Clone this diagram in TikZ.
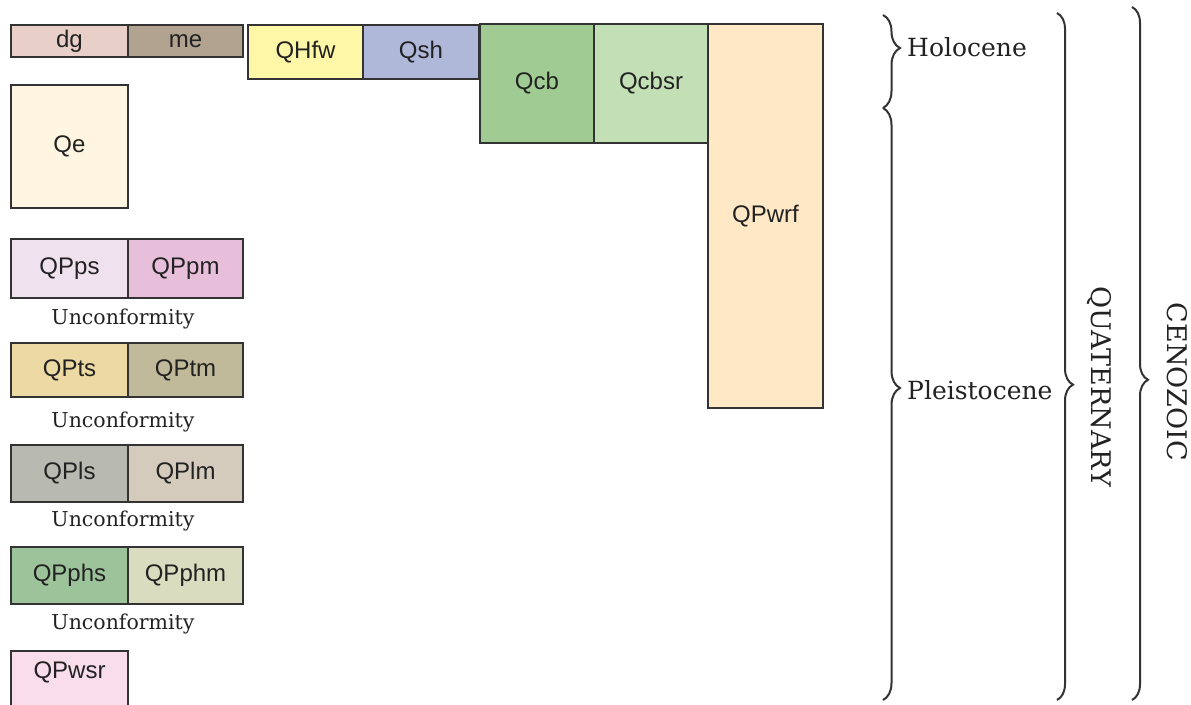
\documentclass[tikz,border=0pt]{standalone}
\usepackage{fontspec}
\setmainfont{DejaVu Serif}
\setsansfont{Liberation Sans}
\usetikzlibrary{decorations.pathreplacing}

% unit fill colours
\definecolor{cdg}{HTML}{E8CFC8}
\definecolor{cme}{HTML}{B1A390}
\definecolor{cQe}{HTML}{FFF5E0}
\definecolor{cQHfw}{HTML}{FFF7A8}
\definecolor{cQsh}{HTML}{B0B8DA}
\definecolor{cQcb}{HTML}{A0CC94}
\definecolor{cQcbsr}{HTML}{C2DFB5}
\definecolor{cQPwrf}{HTML}{FFE8C6}
\definecolor{cQPps}{HTML}{F0E1EF}
\definecolor{cQPpm}{HTML}{E8BFDB}
\definecolor{cQPts}{HTML}{EDD9A3}
\definecolor{cQPtm}{HTML}{C0BA9A}
\definecolor{cQPls}{HTML}{B8B9B0}
\definecolor{cQPlm}{HTML}{D4CBBC}
\definecolor{cQPphs}{HTML}{9DC39A}
\definecolor{cQPphm}{HTML}{DADCC0}
\definecolor{cQPwsr}{HTML}{F9DDEA}
\definecolor{edge}{HTML}{333333}
\definecolor{ink}{HTML}{222222}

\begin{document}
\begin{tikzpicture}[x=1pt,y=-1pt,
  unit/.style={draw=edge, line width=1.8pt, inner sep=0pt,
    font=\sffamily\fontsize{24}{24}\selectfont, text=ink},
  unitlabel/.style={inner sep=0pt, font=\sffamily\fontsize{24}{24}\selectfont, text=ink},
  epoch/.style={inner sep=0pt, font=\fontsize{25}{25}\selectfont, text=ink},
  period/.style={inner sep=0pt, font=\fontsize{27}{27}\selectfont, text=ink, rotate=-90},
  gapnote/.style={inner sep=0pt, font=\fontsize{20.5}{20.5}\selectfont, text=ink},
  bracket/.style={draw=black!80, line width=2pt, decorate,
    decoration={brace, amplitude=#1}}]

\useasboundingbox (0,0) rectangle (1191,704);

% --- left column of units ---
\node[unit, fill=cdg, minimum width=117, minimum height=32] (dg) at (69.5,41) {dg};
\node[unit, fill=cme, minimum width=115, minimum height=32] (me) at (185.5,41) {me};
\node[unit, fill=cQe, minimum width=117, minimum height=123] (Qe) at (69.5,146.5) {Qe};

\node[unit, fill=cQPps, minimum width=117, minimum height=59] (QPps) at (69.5,268.5) {QPps};
\node[unit, fill=cQPpm, minimum width=115, minimum height=59] (QPpm) at (185.5,268.5) {QPpm};
\node[gapnote] (unc1) at (123,319) {Unconformity};

\node[unit, fill=cQPts, minimum width=117, minimum height=54] (QPts) at (69.5,370) {QPts};
\node[unit, fill=cQPtm, minimum width=115, minimum height=54] (QPtm) at (185.5,370) {QPtm};
\node[gapnote] (unc2) at (123,422) {Unconformity};

\node[unit, fill=cQPls, minimum width=117, minimum height=57] (QPls) at (69.5,473.5) {QPls};
\node[unit, fill=cQPlm, minimum width=115, minimum height=57] (QPlm) at (185.5,473.5) {QPlm};
\node[gapnote] (unc3) at (123,521) {Unconformity};

\node[unit, fill=cQPphs, minimum width=117, minimum height=57] (QPphs) at (69.5,575.5) {QPphs};
\node[unit, fill=cQPphm, minimum width=115, minimum height=57] (QPphm) at (185.5,575.5) {QPphm};
\node[gapnote] (unc4) at (123,624) {Unconformity};

\node[unit, fill=cQPwsr, minimum width=117, minimum height=80] (QPwsr) at (69.5,691) {};
\node[unitlabel] (QPwsrlab) at (69.5,672) {QPwsr};

% --- top row of units ---
\node[unit, fill=cQHfw, minimum width=115, minimum height=54] (QHfw) at (305.5,52) {QHfw};
\node[unit, fill=cQsh, minimum width=116, minimum height=54] (Qsh) at (421,52) {Qsh};
\node[unit, fill=cQcb, minimum width=114, minimum height=119] (Qcb) at (537,83.5) {Qcb};
\node[unit, fill=cQcbsr, minimum width=114, minimum height=119] (Qcbsr) at (651,83.5) {Qcbsr};
\node[unit, fill=cQPwrf, minimum width=115, minimum height=384] (QPwrf) at (765.5,216) {QPwrf};

% --- time scale brackets ---
\coordinate (holoA) at (883,15);   \coordinate (holoB) at (883,108);
\coordinate (pleiA) at (883,108);  \coordinate (pleiB) at (883,700);
\coordinate (quatA) at (1057,13);  \coordinate (quatB) at (1057,700);
\coordinate (cenoA) at (1132,7);   \coordinate (cenoB) at (1132,700);

\draw[bracket=17, decoration={aspect=0.355}] (holoA) -- (holoB);
\draw[bracket=17, decoration={aspect=0.473}] (pleiA) -- (pleiB);
\draw[bracket=16, decoration={aspect=0.541}] (quatA) -- (quatB);
\draw[bracket=16, decoration={aspect=0.538}] (cenoA) -- (cenoB);

\node[epoch, anchor=west] (holo) at (907,47) {Holocene};
\node[epoch, anchor=west] (plei) at (907,390) {Pleistocene};
\node[period] (quat) at (1099,387) {QUATERNARY};
\node[period] (ceno) at (1177,382) {CENOZOIC};

\end{tikzpicture}
\end{document}
